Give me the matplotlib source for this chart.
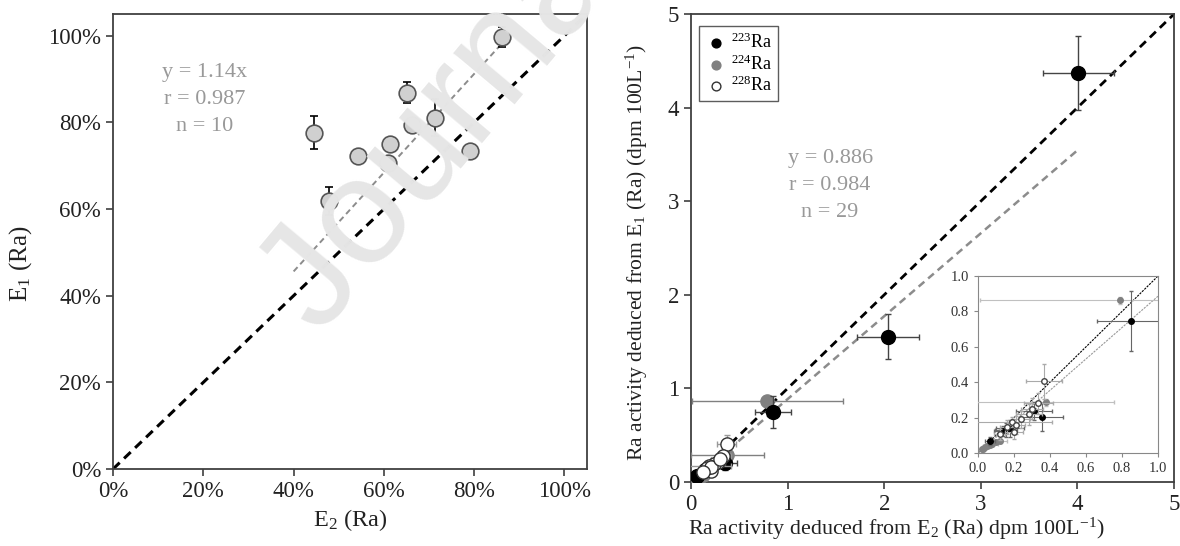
import matplotlib
matplotlib.use('Agg')
import matplotlib.pyplot as plt
import numpy as np

plt.rcParams['font.family'] = ['Liberation Serif', 'DejaVu Serif']
plt.rcParams['mathtext.fontset'] = 'custom'
plt.rcParams['mathtext.rm'] = 'Liberation Serif'
plt.rcParams['mathtext.it'] = 'Liberation Serif:italic'
plt.rcParams['mathtext.default'] = 'rm'

# ---- left panel: E1 vs E2 efficiencies ----
e2_vals = [0.861, 0.651, 0.714, 0.662, 0.613, 0.609, 0.542, 0.791, 0.445, 0.478]
e1_vals = [0.997, 0.868, 0.811, 0.794, 0.750, 0.707, 0.723, 0.734, 0.776, 0.619]
e1_err = [0.022, 0.024, 0.043, 0, 0, 0, 0, 0, 0.038, 0.032]
fit_left_x = [0.40, 0.875]
slope_left = 1.14

# ---- right panel: Ra activities (dpm 100L-1) ----
ra223_x = [4.01, 2.04, 0.85, 0.354, 0.311, 0.178, 0.155, 0.141, 0.067]
ra223_y = [4.37, 1.55, 0.745, 0.205, 0.237, 0.139, 0.13, 0.124, 0.068]
ra223_xerr = [0.37, 0.32, 0.19, 0.12, 0.10, 0.08, 0.06, 0.05, 0.03]
ra223_yerr = [0.40, 0.24, 0.17, 0.08, 0.05, 0.05, 0.04, 0.03, 0.02]

ra224_x = [0.79, 0.376, 0.12, 0.10, 0.08, 0.065, 0.05, 0.04, 0.03, 0.02]
ra224_y = [0.863, 0.286, 0.07, 0.06, 0.05, 0.045, 0.04, 0.032, 0.025, 0.02]
ra224_xerr = [0.78, 0.38, 0.04, 0.03, 0.03, 0.02, 0.02, 0.02, 0.01, 0.01]
ra224_yerr = [0.02, 0.02, 0.01, 0.01, 0.01, 0.01, 0.01, 0.01, 0.01, 0.01]

ra228_x = [0.369, 0.335, 0.283, 0.24, 0.202, 0.19, 0.163, 0.21, 0.30, 0.12]
ra228_y = [0.405, 0.28, 0.218, 0.19, 0.117, 0.175, 0.149, 0.16, 0.25, 0.105]
ra228_xerr = [0.10, 0.08, 0.07, 0.05, 0.05, 0.22, 0.04, 0.05, 0.06, 0.03]
ra228_yerr = [0.10, 0.06, 0.06, 0.05, 0.04, 0.03, 0.04, 0.05, 0.06, 0.03]

fit_right_x = [0, 4.02]
slope_right = 0.886

spine_col = '#404040'
txt_gray = '#999999'

fig = plt.figure(figsize=(11.8, 5.46), dpi=100)

# left axes
ax1 = fig.add_axes([0.0958, 0.141, 0.4017, 0.8333])
ax1.plot([0, 1.05], [0, 1.05], ls=(0, (3, 2)), color='black', lw=2.2, zorder=2)
fx = np.array(fit_left_x)
ax1.plot(fx, slope_left * fx, ls=(0, (3, 2)), color='#8c8c8c', lw=1.4, zorder=2)
ax1.errorbar(e2_vals, e1_vals, yerr=e1_err, fmt='o', ms=12, mfc='#d0d0d0', mec='#555555',
             mew=1.2, ecolor='black', elinewidth=1.2, capsize=3, zorder=3)
ax1.set_xlim(0, 1.05)
ax1.set_ylim(0, 1.05)
ax1.set_xticks(np.arange(0, 1.01, 0.2))
ax1.set_yticks(np.arange(0, 1.01, 0.2))
ax1.set_xticklabels([f'{int(round(v * 100))}%' for v in np.arange(0, 1.01, 0.2)])
ax1.set_yticklabels([f'{int(round(v * 100))}%' for v in np.arange(0, 1.01, 0.2)])
ax1.set_xlabel('E$_2$ (Ra)', fontsize=17.5, color='#222222', labelpad=4)
ax1.set_ylabel('E$_1$ (Ra)', fontsize=18, color='#222222')
ax1.yaxis.set_label_coords(-0.167, 0.45)
ax1.text(0.203, 0.853, 'y = 1.14x\nr = 0.987\nn = 10', ha='center', va='center',
         fontsize=16, color=txt_gray, linespacing=1.56)

# right axes
ax2 = fig.add_axes([0.5856, 0.1172, 0.4093, 0.857])
ax2.plot([0, 5], [0, 5], ls=(0, (3, 2)), color='black', lw=2.0, zorder=2)
rx = np.array(fit_right_x)
ax2.plot(rx, slope_right * rx, ls=(0, (3, 2)), color='#8c8c8c', lw=1.8, zorder=2)
ax2.errorbar(ra224_x, ra224_y, xerr=ra224_xerr, yerr=ra224_yerr, fmt='o', ms=9.5,
             mfc='#808080', mec='#808080', ecolor='#808080', elinewidth=1, capsize=2, zorder=3)
ax2.errorbar(ra223_x, ra223_y, xerr=ra223_xerr, yerr=ra223_yerr, fmt='o', ms=10,
             mfc='black', mec='black', ecolor='#444444', elinewidth=1, capsize=2, zorder=4)
ax2.errorbar(ra228_x, ra228_y, xerr=ra228_xerr, yerr=ra228_yerr, fmt='o', ms=9.5,
             mfc='white', mec='#333333', ecolor='#999999', elinewidth=1, capsize=2, zorder=5)
ax2.set_xlim(0, 5)
ax2.set_ylim(0, 5)
ax2.set_xticks(range(6))
ax2.set_yticks(range(6))
ax2.set_xlabel('Ra activity deduced from E$_2$ (Ra) dpm 100L$^{-1}$)', fontsize=15.8,
               color='#222222')
ax2.xaxis.set_label_coords(0.425, -0.073)
ax2.set_ylabel('Ra activity deduced from E$_1$ (Ra) (dpm 100L$^{-1}$)', fontsize=15.6,
               color='#222222')
ax2.yaxis.set_label_coords(-0.085, 0.49)
ax2.text(1.44, 3.17, 'y = 0.886\nr = 0.984\nn = 29', ha='center', va='center',
         fontsize=16, color=txt_gray, linespacing=1.56)

h1 = ax2.scatter([], [], s=40, c='black', label='$^{223}$Ra')
h2 = ax2.scatter([], [], s=40, c='#808080', label='$^{224}$Ra')
h3 = ax2.scatter([], [], s=40, c='white', edgecolors='#333333', label='$^{228}$Ra')
leg = ax2.legend(handles=[h1, h2, h3], loc='upper left', bbox_to_anchor=(0.017, 0.974),
                 borderaxespad=0, fontsize=13, frameon=True, fancybox=False,
                 handletextpad=0.2, handlelength=1.2, labelspacing=0.12, borderpad=0.35)
leg.get_frame().set_edgecolor('#333333')
leg.get_frame().set_linewidth(1.0)

# inset
ax3 = fig.add_axes([0.8288, 0.1703, 0.1525, 0.324])
ax3.plot([0, 1], [0, 1], ls=(0, (2, 1)), color='black', lw=0.8, zorder=2)
ix = np.array([0, 1])
ax3.plot(ix, slope_right * ix, ls=(0, (2, 1)), color='#999999', lw=0.8, zorder=2)
ax3.errorbar(ra224_x, ra224_y, xerr=ra224_xerr, yerr=ra224_yerr, fmt='o', ms=4,
             mfc='#808080', mec='#808080', ecolor='#c0c0c0', elinewidth=0.8, capsize=1.5, zorder=3)
ax3.errorbar(ra223_x, ra223_y, xerr=ra223_xerr, yerr=ra223_yerr, fmt='o', ms=4,
             mfc='black', mec='black', ecolor='#666666', elinewidth=0.8, capsize=1.5, zorder=4)
ax3.errorbar(ra228_x, ra228_y, xerr=ra228_xerr, yerr=ra228_yerr, fmt='o', ms=4,
             mfc='white', mec='#444444', ecolor='#aaaaaa', elinewidth=0.8, capsize=1.5, zorder=5)
ax3.set_xlim(0, 1)
ax3.set_ylim(0, 1)
ax3.set_xticks(np.arange(0, 1.01, 0.2))
ax3.set_yticks(np.arange(0, 1.01, 0.2))
ax3.xaxis.set_major_formatter(matplotlib.ticker.FormatStrFormatter('%.1f'))
ax3.yaxis.set_major_formatter(matplotlib.ticker.FormatStrFormatter('%.1f'))
ax3.tick_params(labelsize=10.5, length=3, width=0.8, colors='#888888', labelcolor='#333333')
for s in ax3.spines.values():
    s.set_color('#888888')
    s.set_linewidth(0.8)

for ax in (ax1, ax2):
    ax.tick_params(labelsize=16.5, length=5, width=1.2, colors=spine_col, labelcolor='#222222')
    for s in ax.spines.values():
        s.set_color(spine_col)
        s.set_linewidth(1.3)

# watermark of the source pdf
fig.text(0.270, 0.385, 'Journal', fontsize=109, family='Liberation Sans', color='#e6e6e6',
         rotation=50, rotation_mode='anchor', ha='left', va='baseline', zorder=10)

fig.savefig('out.png', dpi=100, facecolor='white')
